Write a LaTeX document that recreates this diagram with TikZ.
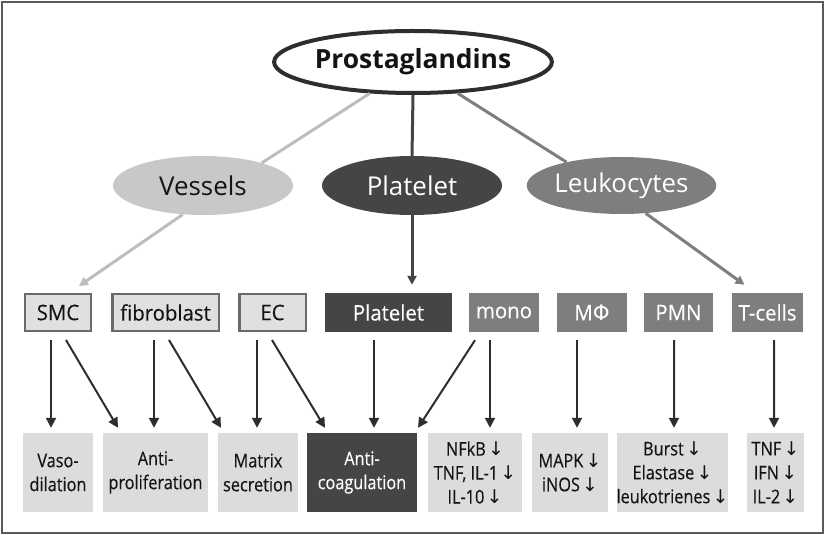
\documentclass[tikz,border=0pt]{standalone}
\usepackage{fontspec}
\setmainfont{Open Sans}
\newfontfamily\condfont[FakeStretch=0.86,FakeBold=0.3]{Open Sans}
\newfontfamily\boxfont[FakeStretch=0.95,FakeBold=0.25]{Open Sans}
\newfontfamily\symfont{DejaVu Sans}
\usetikzlibrary{shapes.geometric,arrows.meta,calc}
\definecolor{frameC}{HTML}{5A5A5A}
\definecolor{lightL}{HTML}{BDBDBD}
\definecolor{lightF}{HTML}{C8C8C8}
\definecolor{darkF}{HTML}{454545}
\definecolor{midF}{HTML}{7E7E7E}
\definecolor{boxF}{HTML}{E0E0E0}
\definecolor{boxE}{HTML}{6A6A6A}
\definecolor{resF}{HTML}{DCDCDC}
\definecolor{txt}{HTML}{141414}
\definecolor{arrC}{HTML}{2E2E2E}
\newcommand{\dn}{\hspace{0.12em}{\symfont\fontsize{19}{19}\selectfont ↓}}
\begin{document}
\begin{tikzpicture}[x=1bp,y=-1bp,
  ell/.style={ellipse, inner sep=0pt, minimum width=180bp, minimum height=59bp,
    font=\fontsize{26}{28}\selectfont},
  lbox/.style={rectangle, fill=boxF, draw=boxE, line width=2.5bp, inner sep=0pt,
    minimum height=36.5bp, text=txt, font=\boxfont\fontsize{21.5}{22}\selectfont},
  gbox/.style={rectangle, fill=midF, inner sep=0pt, minimum height=39bp,
    text=white, font=\boxfont\fontsize{21.5}{22}\selectfont},
  res/.style={rectangle, fill=resF, inner sep=0pt, minimum height=79bp, align=center,
    text=txt, font=\condfont\fontsize{19}{24}\selectfont},
  conn/.style={line width=3bp},
  tip/.style={-{Triangle[length=9bp,width=9bp]}},
  arr/.style={line width=2bp, draw=arrC, -{Triangle[length=10bp,width=10bp]}}]
\useasboundingbox (0,0) rectangle (826,535);
\draw[frameC, line width=2bp] (2,2) rectangle (823,533);

% top level
\node[ellipse, draw=arrC, fill=white, line width=4bp, inner sep=0pt,
  minimum width=238bp, minimum height=62bp, text=txt,
  font=\bfseries\fontsize{26.5}{28}\selectfont] (pg) at (413,62) {Prostaglandins};
\node[ell, fill=lightF, text=txt] (ves) at (203,185.5) {Vessels};
\node[ell, fill=darkF, text=white] (pel) at (412,185.5) {Platelet};
\node[ell, fill=midF, text=white, minimum width=179bp, minimum height=57bp] (leu) at (621.5,185.5) {Leukocytes};

% row 2
\node[lbox, minimum width=65.5bp] (smc) at (58,312.5) {SMC};
\node[lbox, minimum width=106.5bp] (fib) at (165.5,312.5) {fibroblast};
\node[lbox, minimum width=66.5bp] (ec) at (272.5,312.5) {EC};
\node[gbox, fill=darkF, minimum width=127bp] (pbox) at (388.5,312.5) {Platelet};
\node[gbox, minimum width=70bp] (mono) at (504,312.5) {mono};
\node[gbox, minimum width=70bp] (mphi) at (592,312.5) {M{\symfont Φ}};
\node[gbox, minimum width=69bp] (pmn) at (678.5,312.5) {PMN};
\node[gbox, minimum width=71bp] (tc) at (767.5,312.5) {T-cells};

% row 3
\node[res, minimum width=70bp] (vaso) at (58,472.5) {Vaso-\\dilation};
\node[res, minimum width=105bp] (apro) at (155.5,472.5) {Anti-\\proliferation};
\node[res, minimum width=80bp] (mat) at (258,472.5) {Matrix\\secretion};
\node[res, fill=darkF, text=white, minimum width=110bp] (acoag) at (362,472.5) {Anti-\\coagulation};
\node[res, minimum width=94bp] (nfkb) at (475,472.5) {NFkB\dn\\TNF, IL-1\dn\\IL-10\dn};
\node[res, minimum width=76bp] (mapk) at (570,472.5) {MAPK\dn\\iNOS\dn};
\node[res, minimum width=111bp] (burst) at (672.5,472.5) {Burst\dn\\Elastase\dn\\leukotrienes\dn};
\node[res, minimum width=57bp] (tnf) at (775.5,472.5) {TNF\dn\\IFN\dn\\IL-2\dn};

% top connectors
\draw[conn, lightL] (pg.216) -- (ves.21);
\draw[conn, darkF] (pg.south) -- (pel.north);
\draw[conn, midF] (pg.325) -- (leu.157);
\draw[conn, lightL, tip] (ves.235) -- ($(smc.north)+(21,-7)$);
\draw[conn, darkF, tip] (pel.south) -- ($(pel.south |- pbox.north)+(0,-8)$);
\draw[conn, midF, tip] (leu.311) -- ($(tc.north)+(-23,-8)$);

% row arrows
\draw[arr] ($(smc.south)+(-7,8)$) -- ($(vaso.north)+(-7,-5)$);
\draw[arr] ($(smc.south)+(8,8)$) -- ($(apro.north)+(-37.5,-5)$);
\draw[arr] ($(fib.south)+(-11.5,8)$) -- ($(apro.north)+(-1.5,-5)$);
\draw[arr] ($(fib.south)+(3.5,8)$) -- ($(mat.north)+(-37,-5)$);
\draw[arr] ($(ec.south)+(-15.5,8)$) -- ($(mat.north)+(-1,-5)$);
\draw[arr] ($(ec.south)+(-0.5,8)$) -- ($(acoag.north)+(-37,-5)$);
\draw[arr] ($(pbox.south)+(-14.5,8)$) -- ($(acoag.north)+(12,-5)$);
\draw[arr] ($(mono.south)+(-29,8)$) -- ($(acoag.north)+(56,-5)$);
\draw[arr] ($(mono.south)+(-14,8)$) -- ($(nfkb.north)+(15,-5)$);
\draw[arr] ($(mphi.south)+(-15,8)$) -- ($(mapk.north)+(7,-5)$);
\draw[arr] ($(pmn.south)+(-4.5,8)$) -- ($(burst.north)+(1.5,-5)$);
\draw[arr] ($(tc.south)+(6.5,8)$) -- ($(tnf.north)+(-1.5,-5)$);
\end{tikzpicture}
\end{document}
